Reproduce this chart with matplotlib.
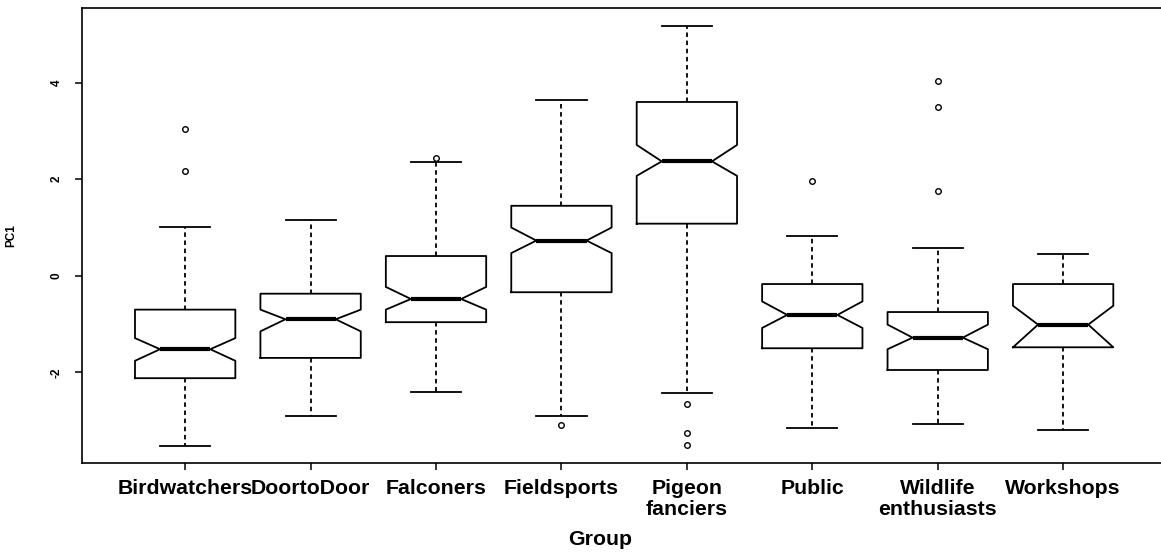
import numpy as np
import matplotlib.pyplot as plt

# group labels and box statistics (PC1 scores)
groups = ['Birdwatchers', 'DoortoDoor', 'Falconers', 'Fieldsports',
          'Pigeon\nfanciers', 'Public', 'Wildlife\nenthusiasts', 'Workshops']
whislo = [-3.53, -2.90, -2.41, -2.90, -2.42, -3.15, -3.07, -3.20]
q1 = [-2.12, -1.70, -0.96, -0.34, 1.08, -1.50, -1.95, -1.48]
med = [-1.52, -0.90, -0.48, 0.73, 2.37, -0.81, -1.28, -1.01]
q3 = [-0.70, -0.37, 0.41, 1.45, 3.60, -0.17, -0.75, -0.17]
whishi = [1.02, 1.16, 2.35, 3.64, 5.18, 0.82, 0.57, 0.45]
cilo = [-1.76, -1.15, -0.70, 0.47, 2.07, -1.08, -1.52, -1.48]
cihi = [-1.29, -0.70, -0.23, 1.00, 2.71, -0.53, -1.01, -0.62]
fliers = [[3.04, 2.17], [], [2.44], [-3.09], [-2.66, -3.26, -3.51],
          [1.97], [4.03, 3.50, 1.75], []]

stats = []
for i in range(len(groups)):
    stats.append(dict(label=groups[i], whislo=whislo[i], q1=q1[i], med=med[i],
                      q3=q3[i], whishi=whishi[i], cilo=cilo[i], cihi=cihi[i],
                      fliers=np.array(fliers[i])))

plt.rcParams['font.family'] = ['Liberation Sans', 'DejaVu Sans']

fig = plt.figure(figsize=(11.61, 5.56), dpi=100)
ax = fig.add_axes([0.0709, 0.1678, 0.9334, 0.8173])

ax.bxp(stats, positions=np.arange(1, len(groups) + 1), widths=0.8,
       shownotches=True, capwidths=0.4,
       boxprops=dict(color='black', linewidth=1.3),
       whiskerprops=dict(color='black', linewidth=1.3, linestyle=(0, (2.5, 2))),
       capprops=dict(color='black', linewidth=1.3),
       medianprops=dict(color='black', linewidth=3),
       flierprops=dict(marker='o', markerfacecolor='none', markeredgecolor='black',
                       markersize=4, markeredgewidth=1))

ax.set_xlim(0.18, 8.82)
ax.set_ylim(-3.87, 5.54)
ax.set_yticks([-2, 0, 2, 4])
ax.set_yticklabels(['-2', '0', '2', '4'], rotation=90, va='center',
                   fontsize=8.5, fontweight='bold')
for lbl in ax.get_xticklabels():
    lbl.set_fontsize(15.3)
    lbl.set_fontweight('bold')
    lbl.set_linespacing(1.1)
ax.tick_params(axis='y', length=5, width=1.1, pad=9)
ax.tick_params(axis='x', length=5, width=1.1, pad=7)
for s in ax.spines.values():
    s.set_linewidth(1.2)

ax.set_ylabel('PC1', fontsize=8.5, fontweight='bold')
ax.yaxis.set_label_coords(-0.060, 0.5)
ax.set_xlabel('Group', fontsize=15.3, fontweight='bold')
ax.xaxis.set_label_coords(0.478, -0.170)
ax.xaxis.label.set_va('center')

fig.savefig('out.png', dpi=100)
